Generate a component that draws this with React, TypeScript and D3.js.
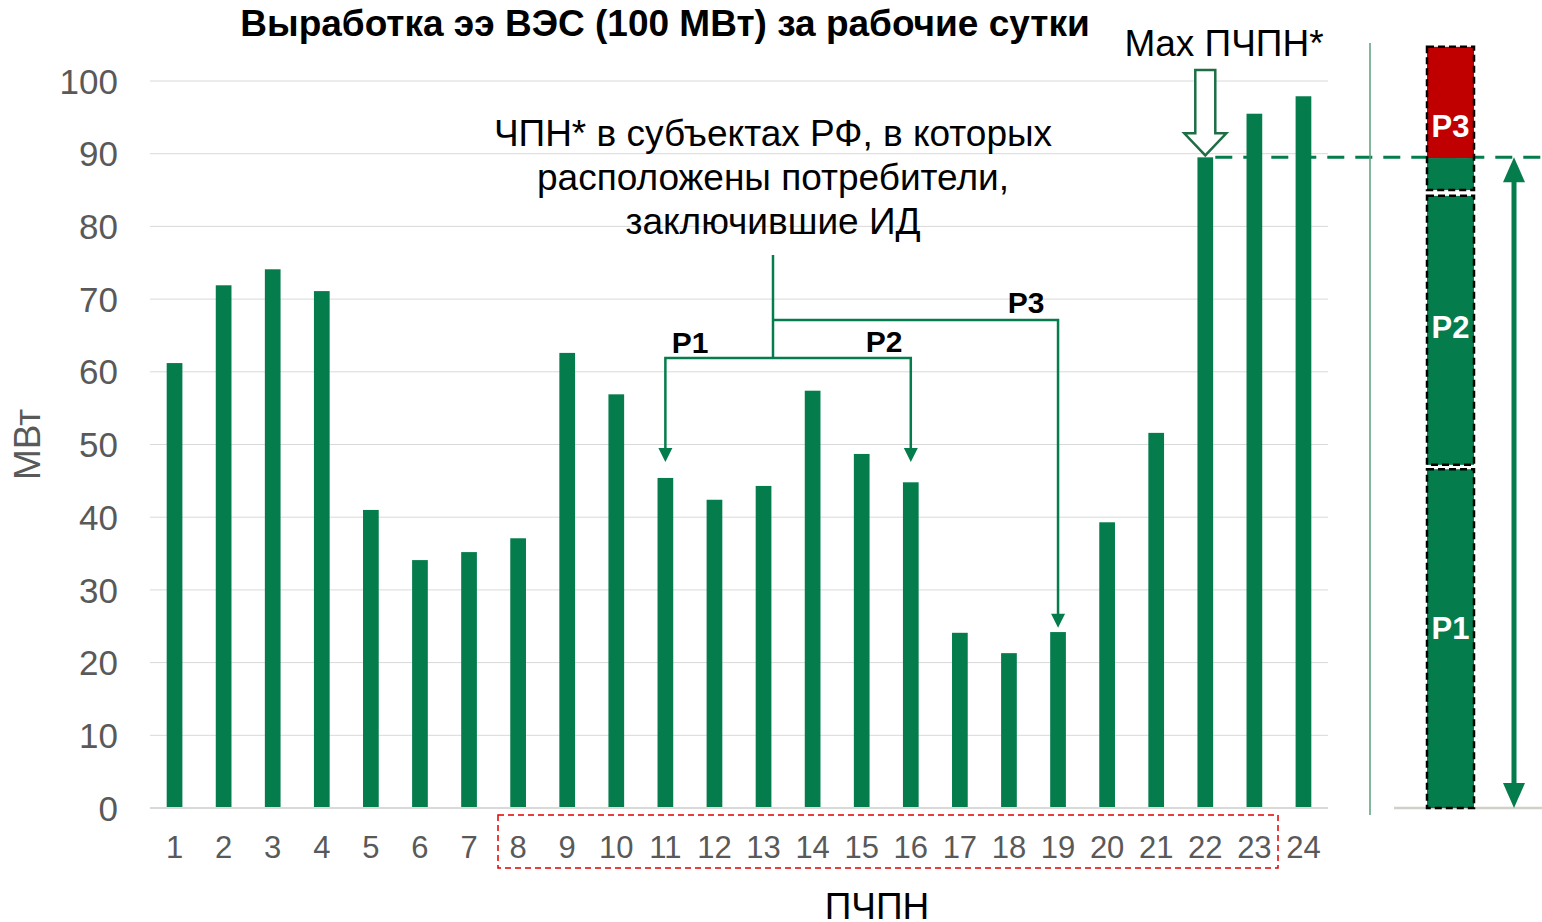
import React from 'react'
import * as d3 from 'd3'

// hours of the working day (ПЧПН)
const hours = ['1', '2', '3', '4', '5', '6', '7', '8', '9', '10', '11', '12', '13', '14', '15', '16', '17', '18', '19', '20', '21', '22', '23', '24']
// generation of the wind farm, MW
const output = [61.2, 71.9, 74.1, 71.1, 41.0, 34.1, 35.2, 37.1, 62.6, 56.9, 45.4, 42.4, 44.3, 57.4, 48.7, 44.8, 24.1, 21.3, 24.2, 39.3, 51.6, 89.5, 95.5, 97.9]
const yTicks = [0, 10, 20, 30, 40, 50, 60, 70, 80, 90, 100]

// right-hand stacked column
const segLabels = ['P1', 'P2', '', 'P3']
const segLabelAt = [24.8, 66.2, 0, 93.8]
const segFrom = [0, 47.2, 85.0, 89.4]
const segTo = [46.6, 84.2, 89.4, 104.7]
const segColors = ['#047c4c', '#047c4c', '#047c4c', '#c00000']
const boxFrom = [0, 47.2, 85.0]
const boxTo = [46.6, 84.2, 104.7]

const maxHourValue = 89.5 // Max ПЧПН (hour 22)

const GREEN = '#047c4c'
const FONT = '"Liberation Sans", Arial, sans-serif'

const W = 1542
const H = 922
const margin = { top: 81, right: 214, bottom: 114, left: 150 }
const plotRight = W - margin.right

const App: React.FC = () => {
  const x = d3.scaleBand<string>().domain(hours).range([margin.left, plotRight]).paddingInner(0.68).paddingOuter(0.34)
  const y = d3.scaleLinear().domain([0, 100]).range([H - margin.bottom, margin.top])

  const cx = (h: string) => (x(h) as number) + x.bandwidth() / 2
  const y0 = y(0)

  // annotation geometry
  const stemX = 773
  const topY = 255
  const branchY1 = 358
  const branchY3 = 320
  const p1x = cx('11')
  const p2x = cx('16')
  const p3x = cx('19')
  const tipY12 = y(47.6)
  const tipY3 = y(24.8)

  const arrowHead = (tx: number, ty: number, w = 7, len = 14) =>
    `M${tx - w},${ty - len} L${tx + w},${ty - len} L${tx},${ty} Z`

  // hollow arrow over hour 22
  const ax = cx('22')
  const atip = y(maxHourValue) - 2
  const hollow = [
    [ax - 10, 70],
    [ax + 10, 70],
    [ax + 10, atip - 22],
    [ax + 21, atip - 22],
    [ax, atip],
    [ax - 21, atip - 22],
    [ax - 10, atip - 22],
  ]
  const hollowPath = d3.line()(hollow as [number, number][]) + 'Z'

  // right column
  const colX = 1427
  const colW = 47
  const dblX = 1514

  return (
    <svg width={W} height={H} style={{ position: 'absolute', left: 0, top: 0, background: '#fff' }} fontFamily={FONT}>
      {/* gridlines */}
      {yTicks.slice(1).map((t) => (
        <line key={t} x1={margin.left} x2={plotRight} y1={y(t)} y2={y(t)} stroke="#d9d9d9" strokeWidth={1} />
      ))}
      {/* y ticks */}
      {yTicks.map((t) => (
        <text key={t} x={118} y={y(t)} dy="0.36em" textAnchor="end" fontSize={35} fill="#595959">
          {t}
        </text>
      ))}
      <text transform={`translate(40,${(y(0) + y(100)) / 2}) rotate(-90)`} textAnchor="middle" fontSize={37} fill="#595959">
        МВт
      </text>

      {/* bars */}
      {output.map((v, i) => (
        <rect key={i} x={x(hours[i])} y={y(v)} width={x.bandwidth()} height={y0 - y(v)} fill={GREEN} />
      ))}
      <line x1={margin.left} x2={plotRight} y1={y0} y2={y0} stroke="#d9d9d9" strokeWidth={2} />

      {/* x labels */}
      {hours.map((h) => (
        <text key={h} x={cx(h)} y={858} textAnchor="middle" fontSize={31} fill="#595959">
          {h}
        </text>
      ))}
      <rect x={498} y={815} width={780} height={53} fill="none" stroke="#e00000" strokeWidth={1.5} strokeDasharray="6 4" />
      <text x={877} y={919} textAnchor="middle" fontSize={37} fill="#000">
        ПЧПН
      </text>

      {/* title */}
      <text x={665} y={36} textAnchor="middle" fontSize={37} fontWeight="bold" fill="#000">
        Выработка ээ ВЭС (100 МВт) за рабочие сутки
      </text>

      {/* annotation text */}
      {['ЧПН* в субъектах РФ, в которых', 'расположены потребители,', 'заключившие ИД'].map((s, i) => (
        <text key={i} x={stemX} y={146 + i * 44} textAnchor="middle" fontSize={37} fill="#000">
          {s}
        </text>
      ))}
      <g stroke={GREEN} strokeWidth={2.5} fill="none">
        <line x1={stemX} x2={stemX} y1={topY} y2={branchY1} />
        <polyline points={`${p1x},${tipY12 - 12} ${p1x},${branchY1} ${p2x},${branchY1} ${p2x},${tipY12 - 12}`} />
        <polyline points={`${stemX},${branchY3} ${p3x},${branchY3} ${p3x},${tipY3 - 12}`} />
      </g>
      <g fill={GREEN}>
        <path d={arrowHead(p1x, tipY12)} />
        <path d={arrowHead(p2x, tipY12)} />
        <path d={arrowHead(p3x, tipY3)} />
      </g>
      <g fontSize={30} fontWeight="bold" fill="#000" textAnchor="middle">
        <text x={690} y={353}>P1</text>
        <text x={884} y={352}>P2</text>
        <text x={1026} y={313}>P3</text>
      </g>

      {/* Max ПЧПН */}
      <text x={1224} y={56} textAnchor="middle" fontSize={37} fill="#000">
        Max ПЧПН*
      </text>
      <path d={hollowPath} fill="#fff" stroke="#1e6e45" strokeWidth={2.5} />
      <line x1={ax + 10} x2={W} y1={y(maxHourValue)} y2={y(maxHourValue)} stroke={GREEN} strokeWidth={3} strokeDasharray="17 11" />

      {/* separator */}
      <line x1={1370} x2={1370} y1={43} y2={815} stroke="#5a9e7c" strokeWidth={1.5} />

      {/* right column */}
      <line x1={1394} x2={W} y1={y0} y2={y0} stroke="#d0d0c8" strokeWidth={2.5} />
      {segFrom.map((f, i) => (
        <rect key={i} x={colX} y={y(segTo[i])} width={colW} height={y(f) - y(segTo[i])} fill={segColors[i]} />
      ))}
      {boxFrom.map((f, i) => (
        <rect key={i} x={colX} y={y(boxTo[i])} width={colW} height={y(f) - y(boxTo[i])} fill="none" stroke="#000" strokeWidth={2.5} strokeDasharray="7 4" />
      ))}
      {segLabels.map((l, i) =>
        l ? (
          <text key={i} x={colX + colW / 2} y={y(segLabelAt[i])} dy="0.36em" textAnchor="middle" fontSize={31} fontWeight="bold" fill="#fff">
            {l}
          </text>
        ) : null
      )}
      {/* double arrow */}
      <line x1={dblX} x2={dblX} y1={y(maxHourValue) + 20} y2={y0 - 20} stroke={GREEN} strokeWidth={5} />
      <path d={`M${dblX - 11},${y(maxHourValue) + 25} L${dblX + 11},${y(maxHourValue) + 25} L${dblX},${y(maxHourValue)} Z`} fill={GREEN} />
      <path d={arrowHead(dblX, y0, 11, 25)} fill={GREEN} />
    </svg>
  )
}

export default App
